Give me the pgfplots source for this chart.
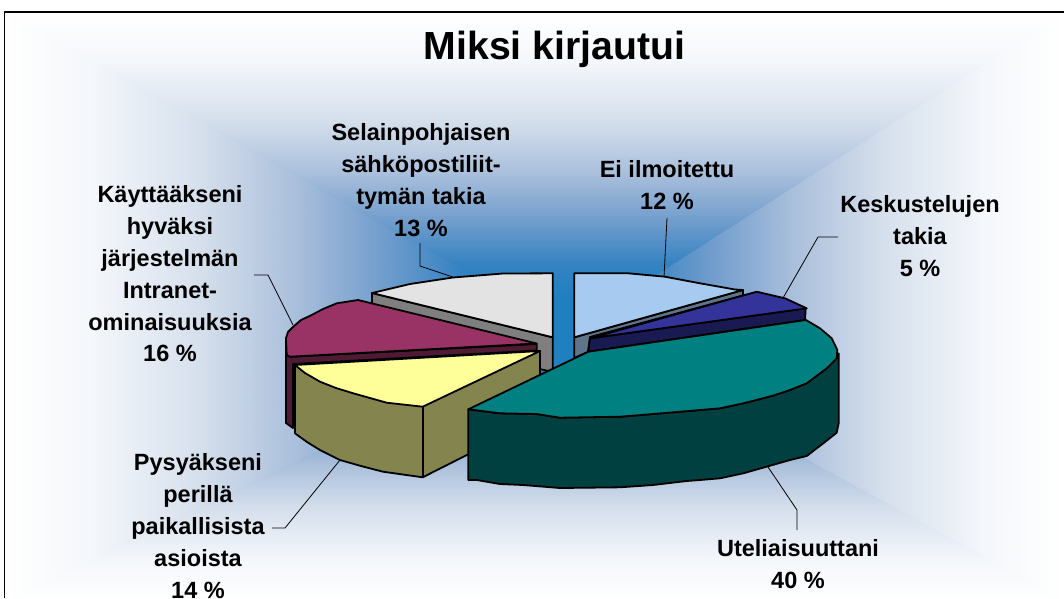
\documentclass[border=0pt]{standalone}
\usepackage{fontspec}
\setmainfont{Liberation Sans}
\usepackage{pgfplots}
\pgfplotsset{compat=1.18}
\definecolor{cGray}{HTML}{E3E3E3}
\definecolor{cGrayS}{HTML}{7F7F7F}
\definecolor{cBlue}{HTML}{A6CAF0}
\definecolor{cBlueS}{HTML}{5F7488}
\definecolor{cNavy}{HTML}{333399}
\definecolor{cNavyS}{HTML}{1A1A52}
\definecolor{cMar}{HTML}{993366}
\definecolor{cMarS}{HTML}{4F1A33}
\definecolor{cYel}{HTML}{FFFF99}
\definecolor{cYelS}{HTML}{84844F}
\definecolor{cTeal}{HTML}{008080}
\definecolor{cTealS}{HTML}{004040}
\newcommand{\lab}{\fontsize{23.5}{31.8}\selectfont\bfseries}
\begin{document}
\begin{tikzpicture}
\path[use as bounding box] (0,0) rectangle (1064pt,598pt);
\begin{axis}[
  at={(0,0)}, anchor=south west,
  scale only axis, width=1064pt, height=598pt,
  xmin=0, xmax=1064, ymin=0, ymax=598, y dir=reverse,
  hide axis, clip=true, no markers,
  colormap={bg}{rgb255(0cm)=(255,255,255); rgb255(15cm)=(244,247,251); rgb255(34cm)=(213,223,236); rgb255(50cm)=(171,192,220); rgb255(66cm)=(111,156,204); rgb255(79cm)=(53,131,194); rgb255(90cm)=(31,128,192); rgb255(100cm)=(31,128,192)},
  point meta min=0, point meta max=1,
  every axis plot/.append style={line join=round},
  pie/.style={draw=black, line width=1.8pt},
  lead/.style={draw=black, line width=0.8pt},
]
% background
\addplot[patch, shader=interp, point meta=explicit] coordinates {
 (5,13) [0] (1064,13) [0] (570,330) [1]
 (1064,13) [0] (1064,600) [0] (570,330) [0.92]
 (1064,600) [0] (5,600) [0] (570,330) [1]
 (5,600) [0] (5,13) [0] (570,330) [0.98]
};
% frame
\addplot[draw=black, line width=1.5pt] coordinates {(4.5,598) (4.5,12) (1064,12)};
% leader lines
\addplot[lead] coordinates {(420,243) (420,266) (453,277)};
\addplot[lead] coordinates {(667,218) (664,277)};
\addplot[lead] coordinates {(838,237) (818,237) (783,298)};
\addplot[lead] coordinates {(254,275) (268,275) (293,325)};
\addplot[lead] coordinates {(272,528) (285,528) (340,460)};
\addplot[lead] coordinates {(768,467) (797,510) (797,530)};
% gray slice
\addplot[pie, fill=cGrayS] coordinates {(372,293) (552.7,337.3) (552.7,372) (372,330)} --cycle;
\addplot[pie, fill=cGray] coordinates {(552.7,273.3) (503,273.5) (453,277.5) (410,284) (372,293) (552.7,337.3)} --cycle;
% light blue slice
\addplot[pie, fill=cBlueS] coordinates {(574.3,337.3) (743,290) (743,295.5) (590,337) (588,352) (574.3,358)} --cycle;
\addplot[pie, fill=cBlue] coordinates {(574.3,273.3) (628.3,273.3) (665,276.7) (700,283.3) (735,289.5) (743,290) (574.3,337.3)} --cycle;
% navy slice
\addplot[pie, fill=cNavyS] coordinates {(590,338.3) (805.7,308.3) (805,320) (588.3,351.7)} --cycle;
\addplot[pie, fill=cNavy] coordinates {(590,338.3) (756.7,291.7) (785,298.3) (806.7,308.3)} --cycle;
% maroon slice
\addplot[pie, fill=cMarS] coordinates {(286,338) (286,423) (293,428) (293,364) (536.7,350.5) (536.7,344) (290.7,356.7)} --cycle;
\addplot[pie, fill=cMar] coordinates {(358,300) (336.7,303.3) (323,309) (311.7,315) (301,320) (293.3,326.7) (288,332) (286,338.3) (286.7,355) (290,356.7) (536.7,343.5)} --cycle;
% yellow slice
\addplot[pie, fill=cYelS] coordinates {(295,365) (295,433.3) (307,442) (320,450) (340,460) (361,466) (383,471.7) (422.7,477.3) (540,418) (540,351)} --cycle;
\addplot[pie] coordinates {(422.7,406.7) (422.7,477.3)};
\addplot[pie, fill=cYel] coordinates {(295,365) (305,373) (320,381.7) (336,388) (353.3,393.3) (386.7,402.7) (422.7,406.7) (540,351)} --cycle;
% teal slice
\addplot[pie, fill=cTealS] coordinates {(468.3,409.3) (468.3,480) (476.7,480) (500,484) (523,485) (560,488) (620,487.3) (653,485) (686.7,481) (700,480) (720,478.3) (743.3,473.3) (770,465.7) (790,460) (806.7,456) (823.3,443.3) (836.7,432.7) (838.7,423.3) (838.7,353.3) (836.7,358.3) (826.7,368.3) (806.7,383.3) (790,390) (771.7,396) (743.3,403.3) (720,408.3) (700,410) (653,414) (620,416.7) (560,417.7) (536.7,414) (500,413.3)} --cycle;
\addplot[pie, fill=cTeal] coordinates {(468.3,409.3) (588.3,351.7) (806,320) (820,328.3) (831.7,338.3) (837.3,350) (836.7,358.3) (826.7,368.3) (806.7,383.3) (790,390) (771.7,396) (743.3,403.3) (720,408.3) (700,410) (653,414) (620,416.7) (560,417.7) (536.7,414) (500,413.3)} --cycle;
% texts
\node[font=\fontsize{39.2}{46}\selectfont\bfseries, anchor=center] at (axis cs:554.5,49) {Miksi kirjautui};
\node[font=\lab, align=center] at (axis cs:421,180) {Selainpohjaisen\\sähköpostiliit-\\tymän takia\\13 \%};
\node[font=\lab, align=center] at (axis cs:667,185) {Ei ilmoitettu\\12 \%};
\node[font=\lab, align=center] at (axis cs:920,236) {Keskustelujen\\takia\\5 \%};
\node[font=\lab, align=center] at (axis cs:170,274) {Käyttääkseni\\hyväksi\\järjestelmän\\Intranet-\\ominaisuuksia\\16 \%};
\node[font=\lab, align=center] at (axis cs:198,526) {Pysyäkseni\\perillä\\paikallisista\\asioista\\14 \%};
\node[font=\lab, align=center] at (axis cs:798,564) {Uteliaisuuttani\\40 \%};
\end{axis}
\end{tikzpicture}
\end{document}
